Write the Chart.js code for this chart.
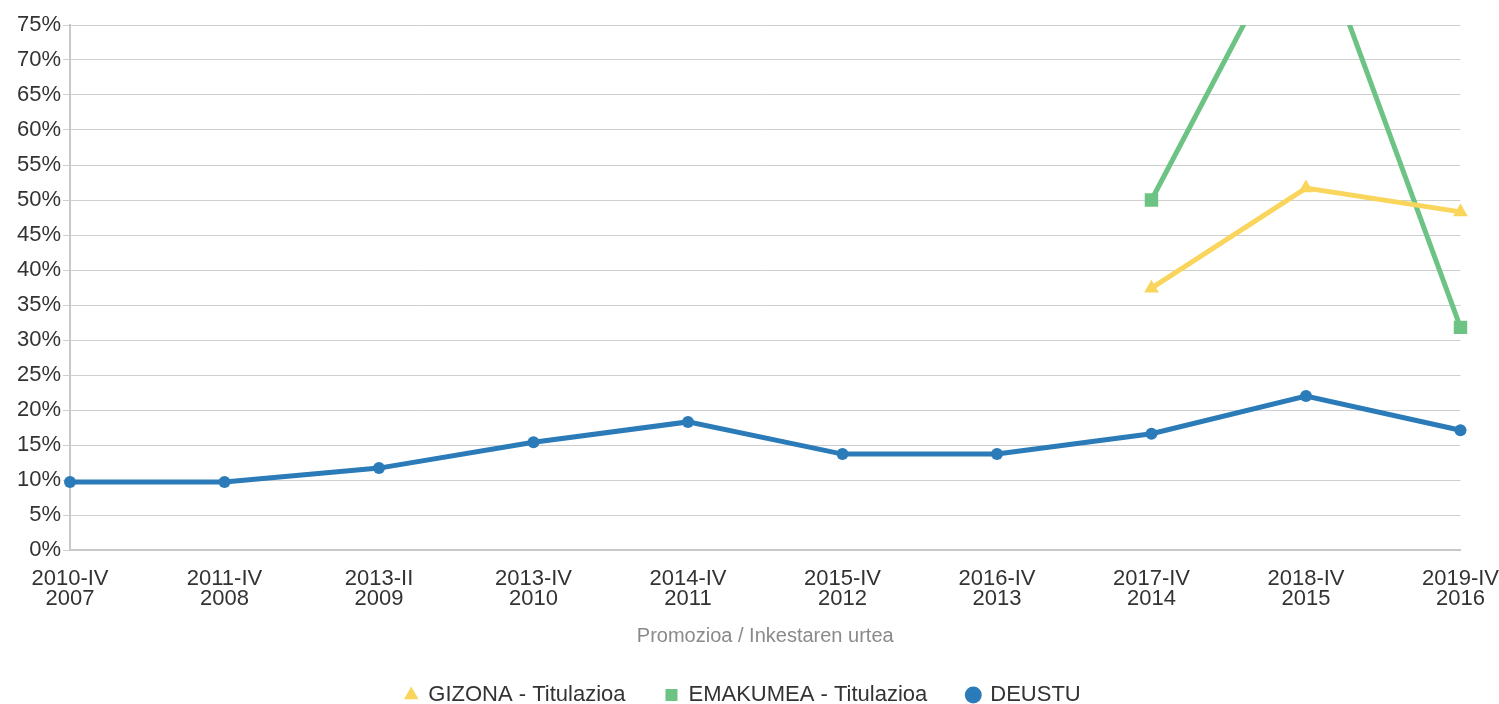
<!DOCTYPE html>
<html>
<head>
<meta charset="utf-8">
<script src="https://cdn.jsdelivr.net/npm/chart.js@4"></script>
<style>
  html, body { margin: 0; padding: 0; background: #fff; }
  #wrap { width: 1499px; height: 704px; }
</style>
</head>
<body>
<div id="wrap"><canvas id="chart" width="1499" height="704"></canvas></div>
<script>
const categories = [
  ['2010-IV', '2007'], ['2011-IV', '2008'], ['2013-II', '2009'], ['2013-IV', '2010'],
  ['2014-IV', '2011'], ['2015-IV', '2012'], ['2016-IV', '2013'], ['2017-IV', '2014'],
  ['2018-IV', '2015'], ['2019-IV', '2016']
];
const gizona = [null, null, null, null, null, null, null, 37.4, 51.7, 48.3];
const emakumea = [null, null, null, null, null, null, null, 50.0, 92.0, 31.8];
const deustu = [9.7, 9.7, 11.7, 15.4, 18.3, 13.7, 13.7, 16.6, 22.0, 17.1];

const FONT = 'Liberation Sans, Arial, sans-serif';
Chart.defaults.font.family = FONT;
Chart.defaults.color = '#333';

// keep the markers on the edge columns whole, cut lines at the top
const CLIP = { left: 10, right: 12, top: 0, bottom: 10 };

const ctx = document.getElementById('chart').getContext('2d');
new Chart(ctx, {
  type: 'line',
  data: {
    labels: categories,
    datasets: [
      {
        label: 'GIZONA - Titulazioa',
        data: gizona,
        borderColor: '#fad55c',
        backgroundColor: '#fad55c',
        borderWidth: 5,
        pointStyle: 'triangle',
        pointRadius: 8.5,
        pointBorderWidth: 0,
        clip: CLIP
      },
      {
        label: 'EMAKUMEA - Titulazioa',
        data: emakumea,
        borderColor: '#6cc383',
        backgroundColor: '#6cc383',
        borderWidth: 5,
        pointStyle: 'rect',
        pointRadius: 9.5,
        pointBorderWidth: 0,
        clip: CLIP
      },
      {
        label: 'DEUSTU',
        data: deustu,
        borderColor: '#2a7bb8',
        backgroundColor: '#2a7bb8',
        borderWidth: 5,
        pointStyle: 'circle',
        pointRadius: 6,
        pointBorderWidth: 0,
        clip: CLIP
      }
    ]
  },
  options: {
    responsive: false,
    animation: false,
    layout: { padding: { top: 25, right: 13, left: 0, bottom: 0 } },
    scales: {
      x: {
        offset: false,
        afterFit: function(scale) { scale.height = 94; },
        // invisible tick marks push the labels down without widening the right padding
        grid: { display: true, drawOnChartArea: false, drawTicks: true, tickLength: 19, tickColor: 'rgba(0,0,0,0)' },
        border: { color: '#c8c8c8', width: 2 },
        ticks: {
          maxRotation: 0,
          autoSkip: false,
          padding: 0,
          font: { size: 22, lineHeight: 0.91 },
          color: '#333'
        },
        title: {
          display: true,
          text: 'Promozioa / Inkestaren urtea',
          color: '#8a8a8a',
          font: { size: 20, lineHeight: 0.8 },
          padding: { top: 0, bottom: 0 }
        }
      },
      y: {
        min: 0,
        max: 75,
        afterFit: function(scale) { scale.width = 70; },
        grid: { color: '#cfcfcf', lineWidth: 1, drawTicks: true, tickLength: 7 },
        border: { color: '#c8c8c8', width: 2 },
        ticks: {
          stepSize: 5,
          padding: 2,
          font: { size: 22 },
          color: '#333',
          callback: v => v + '%'
        }
      }
    },
    plugins: {
      legend: {
        position: 'bottom',
        maxHeight: 60,
        labels: {
          usePointStyle: true,
          boxWidth: 12,
          boxHeight: 12,
          padding: 40,
          font: { size: 22 },
          color: '#333'
        }
      },
      tooltip: { enabled: false }
    }
  }
});
</script>
</body>
</html>
